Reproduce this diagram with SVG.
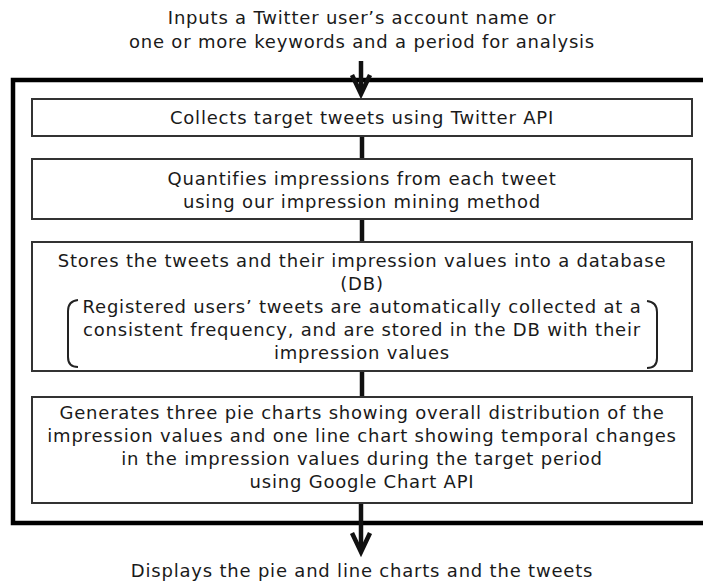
<svg xmlns="http://www.w3.org/2000/svg" width="703" height="583" viewBox="0 0 703 583">
  <style>
    text { font-family: "DejaVu Sans", Verdana, sans-serif; font-size: 18px; letter-spacing: 0.8px; fill: #1a1a1a; text-anchor: middle; }
    .box { fill: #fff; stroke: #333; stroke-width: 2; }
    .frame { fill: none; stroke: #000; stroke-width: 4.5; }
    .link { stroke: #111; stroke-width: 4.5; fill: none; }
    .head { stroke: #111; stroke-width: 4.5; fill: none; stroke-linejoin: miter; }
    .brace { stroke: #222; stroke-width: 2; fill: none; }
  </style>
  <rect width="703" height="583" fill="#fff"/>

  <!-- outer system frame (runs past the right edge) -->
  <path class="frame" d="M720,80 L13,80 L13,523 L720,523"/>

  <g id="connectors">
    <line class="link" x1="361" y1="61" x2="361" y2="92"/>
    <polyline class="head" points="352,75 361,94 370,75"/>
    <line class="link" x1="362" y1="136" x2="362" y2="159"/>
    <line class="link" x1="362" y1="219" x2="362" y2="242"/>
    <line class="link" x1="362" y1="371" x2="362" y2="397"/>
    <line class="link" x1="361" y1="503" x2="361" y2="550"/>
    <polyline class="head" points="352,533 361,552 370,533"/>
  </g>

  <g id="input">
    <text x="362" y="24">Inputs a Twitter user’s account name or</text>
    <text x="362" y="48">one or more keywords and a period for analysis</text>
  </g>

  <g id="collect">
    <rect class="box" x="32" y="99" width="660" height="37"/>
    <text x="362" y="124">Collects target tweets using Twitter API</text>
  </g>

  <g id="quantify">
    <rect class="box" x="32" y="159" width="660" height="60"/>
    <text x="362" y="185">Quantifies impressions from each tweet</text>
    <text x="362" y="208">using our impression mining method</text>
  </g>

  <g id="store">
    <rect class="box" x="32" y="242" width="660" height="129"/>
    <text x="362" y="267">Stores the tweets and their impression values into a database</text>
    <text x="362" y="290">(DB)</text>
    <path class="brace" d="M78,300 Q68,301 68,311 L68,357 Q68,367 78,367"/>
    <path class="brace" d="M647,301 Q657,302 657,312 L657,358 Q657,368 647,368"/>
    <text x="362" y="313">Registered users’ tweets are automatically collected at a</text>
    <text x="362" y="336">consistent frequency, and are stored in the DB with their</text>
    <text x="362" y="359">impression values</text>
  </g>

  <g id="charts">
    <rect class="box" x="32" y="397" width="660" height="106"/>
    <text x="362" y="419">Generates three pie charts showing overall distribution of the</text>
    <text x="362" y="442">impression values and one line chart showing temporal changes</text>
    <text x="362" y="465">in the impression values during the target period</text>
    <text x="362" y="488">using Google Chart API</text>
  </g>

  <g id="display">
    <text x="362" y="577">Displays the pie and line charts and the tweets</text>
  </g>
</svg>
